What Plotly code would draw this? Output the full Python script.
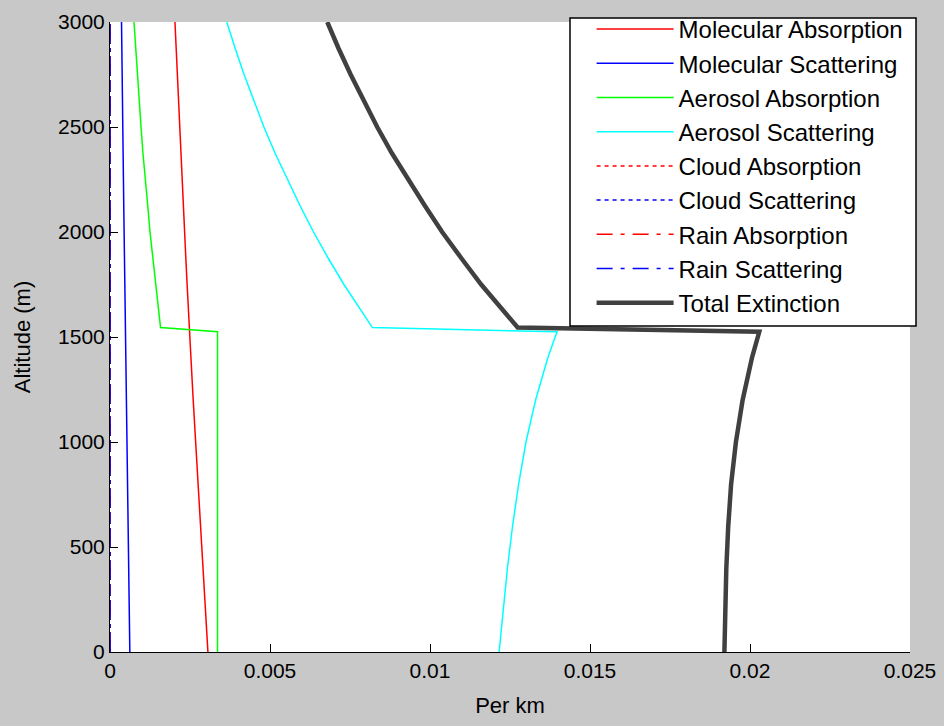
import plotly.graph_objects as go

altitude_m = [0, 200, 400, 600, 800, 1000, 1200, 1400, 1525,
              1545, 1650, 1750, 1875, 2000, 2125, 2250, 2375, 2500, 2625, 2750, 2875, 3000]

molecular_absorption = [0.00306, 0.00298, 0.00290, 0.00282, 0.00274, 0.00267, 0.00260, 0.00253, 0.00248,
                        0.00248, 0.00244, 0.00241, 0.00237, 0.00233, 0.00229, 0.00225, 0.00221,
                        0.00217, 0.00213, 0.00210, 0.00206, 0.00203]
molecular_scattering = [0.00062, 0.00060, 0.00058, 0.00056, 0.00054, 0.00053, 0.00051, 0.00049, 0.00048,
                        0.00048, 0.00047, 0.00046, 0.00045, 0.00044, 0.00043, 0.00042, 0.00041,
                        0.00040, 0.00039, 0.00038, 0.00037, 0.00036]
aerosol_absorption = [0.00336, 0.00336, 0.00336, 0.00336, 0.00336, 0.00336, 0.00336, 0.00336, 0.00336,
                      0.00158, 0.00150, 0.00142, 0.00134, 0.00125, 0.00118, 0.00110, 0.00103,
                      0.00097, 0.00091, 0.00085, 0.00080, 0.00075]
aerosol_scattering = [0.01216, 0.01228, 0.01242, 0.01258, 0.01277, 0.01300, 0.01330, 0.01368, 0.01397,
                      0.00820, 0.00773, 0.00731, 0.00682, 0.00636, 0.00594, 0.00554, 0.00516,
                      0.00481, 0.00449, 0.00419, 0.00391, 0.00365]
cloud_absorption = [0.0] * 22
cloud_scattering = [0.0] * 22
rain_absorption = [0.0] * 22
rain_scattering = [0.0] * 22
total_extinction = [0.01920, 0.01922, 0.01926, 0.01932, 0.01941, 0.01956, 0.01977, 0.02006, 0.02029,
                    0.01274, 0.01214, 0.01160, 0.01098, 0.01038, 0.00984, 0.00931, 0.00881,
                    0.00835, 0.00792, 0.00752, 0.00714, 0.00679]

x_tickvals = [0, 0.005, 0.01, 0.015, 0.02, 0.025]
x_ticktext = ["0", "0.005", "0.01", "0.015", "0.02", "0.025"]
y_tickvals = [0, 500, 1000, 1500, 2000, 2500, 3000]
y_ticktext = ["0", "500", "1000", "1500", "2000", "2500", "3000"]

DOTTED = "4px,4px"
DASHDOT = "16px,8px,4px,8px"

series = [
    ("Molecular Absorption", molecular_absorption, "#ff0000", "solid", 1.5),
    ("Molecular Scattering", molecular_scattering, "#0000ff", "solid", 1.5),
    ("Aerosol Absorption", aerosol_absorption, "#00ff00", "solid", 1.5),
    ("Aerosol Scattering", aerosol_scattering, "#00ffff", "solid", 1.5),
    ("Cloud Absorption", cloud_absorption, "#ff0000", DOTTED, 1.5),
    ("Cloud Scattering", cloud_scattering, "#0000ff", DOTTED, 1.5),
    ("Rain Absorption", rain_absorption, "#ff0000", DASHDOT, 1.5),
    ("Rain Scattering", rain_scattering, "#0000ff", DASHDOT, 1.5),
    ("Total Extinction", total_extinction, "#404040", "solid", 4.5),
]

FONT = "Liberation Sans, Arial, sans-serif"

fig = go.Figure()
for name, vals, color, dash, width in series:
    fig.add_trace(go.Scatter(
        x=vals, y=altitude_m, mode="lines", name=name,
        line=dict(color=color, dash=dash, width=width),
    ))

# legend frame (MATLAB-style box with generous left padding)
fig.add_shape(
    type="rect", xref="paper", yref="paper",
    x0=0.575, x1=1.0075, y0=0.5175, y1=1.00635,
    line=dict(color="#000000", width=1.5), fillcolor="#ffffff", layer="above",
)

fig.update_layout(
    width=944, height=726,
    margin=dict(l=110, r=34, t=22, b=74, autoexpand=False),
    paper_bgcolor="#c8c8c8",
    plot_bgcolor="#ffffff",
    font=dict(family=FONT, size=21, color="#000000"),
    showlegend=True,
    legend=dict(
        x=0.602, y=1.0238, xanchor="left", yanchor="top",
        bgcolor="rgba(0,0,0,0)", borderwidth=0,
        font=dict(family=FONT, size=24, color="#000000"),
        itemwidth=77, tracegroupgap=0,
    ),
)
fig.update_xaxes(
    range=[0, 0.025], tickvals=x_tickvals, ticktext=x_ticktext,
    showgrid=False, zeroline=False, showline=True, linecolor="#000000", linewidth=1,
    ticks="inside", ticklen=8, tickcolor="#000000", mirror=False,
    title=dict(text="Per km", font=dict(family=FONT, size=22), standoff=16),
)
fig.update_yaxes(
    range=[0, 3000], tickvals=y_tickvals, ticktext=y_ticktext,
    showgrid=False, zeroline=False, showline=True, linecolor="#000000", linewidth=1,
    ticks="inside", ticklen=8, tickcolor="#000000", mirror=False,
    title=dict(text="Altitude (m)", font=dict(family=FONT, size=22), standoff=21),
)

fig.write_html("out.html")
